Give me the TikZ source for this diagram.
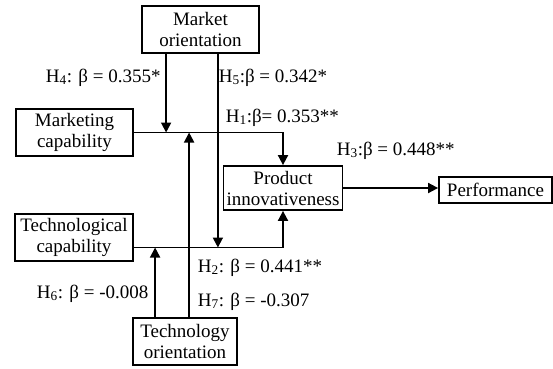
\documentclass[tikz,border=0pt]{standalone}
\usepackage{fontspec}
\setmainfont{Liberation Serif}
\usetikzlibrary{arrows.meta, positioning}

\begin{document}
\begin{tikzpicture}[x=1pt, y=-1pt, line width=1.8pt,
    >={Triangle[length=10pt, width=10pt]},
    construct/.style={draw, align=center, inner sep=1pt, minimum height=47pt,
        font=\fontsize{19}{21}\selectfont},
    beta/.style={anchor=base west, inner sep=0pt, font=\fontsize{19}{21}\selectfont}]
    \useasboundingbox (0,0) rectangle (553,368);

    \node[construct, minimum width=117pt] (mo) at (200.5,29.5) {Market\\orientation};
    \node[construct, minimum width=117pt] (mcap) at (74.5,132.5) {Marketing\\capability};
    \node[construct, minimum width=118pt] (tcap) at (74,237.5) {Technological\\capability};
    \node[construct, minimum width=119pt, minimum height=44pt] (pinn) at (283,188) {Product\\innovativeness};
    \node[construct, minimum width=113pt, minimum height=26pt] (perf) at (495.5,190) {Performance};
    \node[construct, minimum width=104pt] (to) at (185,341.5) {Technology\\orientation};

    \coordinate (tline) at ([yshift=-10pt]tcap.east);
    \coordinate (mo4) at ([xshift=25pt]mo.south west);
    \coordinate (mo5) at ([xshift=-42pt]mo.south east);
    \coordinate (to6) at ([xshift=23pt]to.north west);
    \coordinate (to7) at ([xshift=57pt]to.north west);

    \draw[->] (mcap.east) -| (pinn.north);
    \draw[->] (tline) -| (pinn.south);
    \draw[->] (pinn.east) -- (perf.west |- pinn.east);

    \draw[->] (mo4) -- (mo4 |- mcap.east);
    \draw[->] (mo5) -- (mo5 |- tline);
    \draw[->] (to6) -- (to6 |- tline);
    \draw[->] (to7) -- (to7 |- mcap.east);

    \node[beta] (h4) at (45,82) {H\textsubscript{4}: β = 0.355*};
    \node[beta] (h5) at (218,82) {H\textsubscript{5}:β = 0.342*};
    \node[beta] (h1) at (225,122) {H\textsubscript{1}:β= 0.353**};
    \node[beta] (h3) at (336,155) {H\textsubscript{3}:β = 0.448**};
    \node[beta] (h2) at (197,272) {H\textsubscript{2}: β = 0.441**};
    \node[beta] (h6) at (36,298) {H\textsubscript{6}: β = -0.008};
    \node[beta] (h7) at (197,306) {H\textsubscript{7}: β = -0.307};

\end{tikzpicture}
\end{document}
